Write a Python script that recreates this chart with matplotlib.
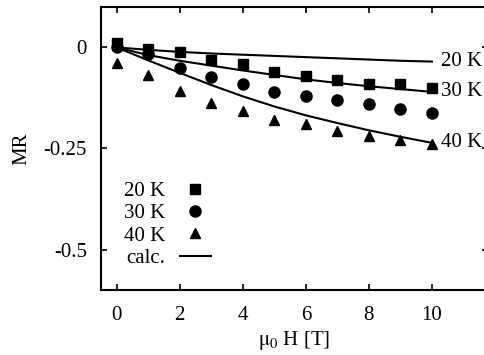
import matplotlib
matplotlib.use("Agg")
import matplotlib.pyplot as plt
import numpy as np

plt.rcParams["font.family"] = ["Liberation Serif", "DejaVu Serif"]
plt.rcParams["mathtext.fontset"] = "stix"

field = np.arange(0, 11)

# measured MR
mr_20k = [0.011, -0.003, -0.012, -0.030, -0.040, -0.061, -0.071, -0.080, -0.090, -0.090, -0.100]
mr_30k = [0.000, -0.017, -0.051, -0.072, -0.090, -0.111, -0.121, -0.131, -0.141, -0.152, -0.161]
mr_40k = [-0.039, -0.068, -0.108, -0.138, -0.158, -0.179, -0.189, -0.207, -0.219, -0.228, -0.238]

# calculated curves
calc_20k = [0, -0.006, -0.011, -0.015, -0.018, -0.021, -0.024, -0.027, -0.030, -0.033, -0.035]
calc_30k = [0, -0.019, -0.033, -0.045, -0.057, -0.068, -0.079, -0.088, -0.096, -0.103, -0.110]
calc_40k = [0, -0.032, -0.063, -0.093, -0.121, -0.146, -0.168, -0.187, -0.205, -0.221, -0.236]

curve_labels = ["20 K", "30 K", "40 K"]

fig = plt.figure(figsize=(4.85, 3.55), dpi=100)
ax = fig.add_axes([0.2082, 0.1831, 0.798, 0.7972])

ax.plot(field, mr_20k, "s", color="black", ms=7.5, label="20 K")
ax.plot(field, mr_30k, "o", color="black", ms=8, label="30 K")
ax.plot(field, mr_40k, "^", color="black", ms=7.5, label="40 K")
ax.plot(field, calc_20k, "-", color="black", lw=1.5, label="calc.")
ax.plot(field, calc_30k, "-", color="black", lw=1.5)
ax.plot(field, calc_40k, "-", color="black", lw=1.5)

for lab, curve in zip(curve_labels, [calc_20k, calc_30k, calc_40k]):
    ax.text(10.3, curve[-1], lab, fontsize=15, va="center", ha="left")

ax.set_xlim(-0.5, 11.78)
ax.set_ylim(-0.6, 0.1)
ax.set_xticks([0, 2, 4, 6, 8, 10])
ax.set_xticklabels(["0", "2", "4", "6", "8", "10"])
ax.set_yticks([0, -0.25, -0.5])
ax.set_yticklabels(["0", "-0.25", "-0.5"])
ax.tick_params(direction="in", length=4, width=1.2, labelsize=15,
               top=True, right=True)
ax.tick_params(axis="y", pad=10)
ax.tick_params(axis="x", pad=11.5)
for sp in ax.spines.values():
    sp.set_linewidth(1.5)

ax.set_xlabel(r"$\mathrm{\mu_0}$ H [T]", fontsize=15, labelpad=3)
ax.set_ylabel("MR", fontsize=15, labelpad=9)

ax.legend(loc="lower left", bbox_to_anchor=(0.032, 0.041), frameon=False,
          markerfirst=False, fontsize=15, handlelength=1.5,
          labelspacing=0.13, handletextpad=0.71, borderpad=0)

fig.savefig("out.png", dpi=100)
